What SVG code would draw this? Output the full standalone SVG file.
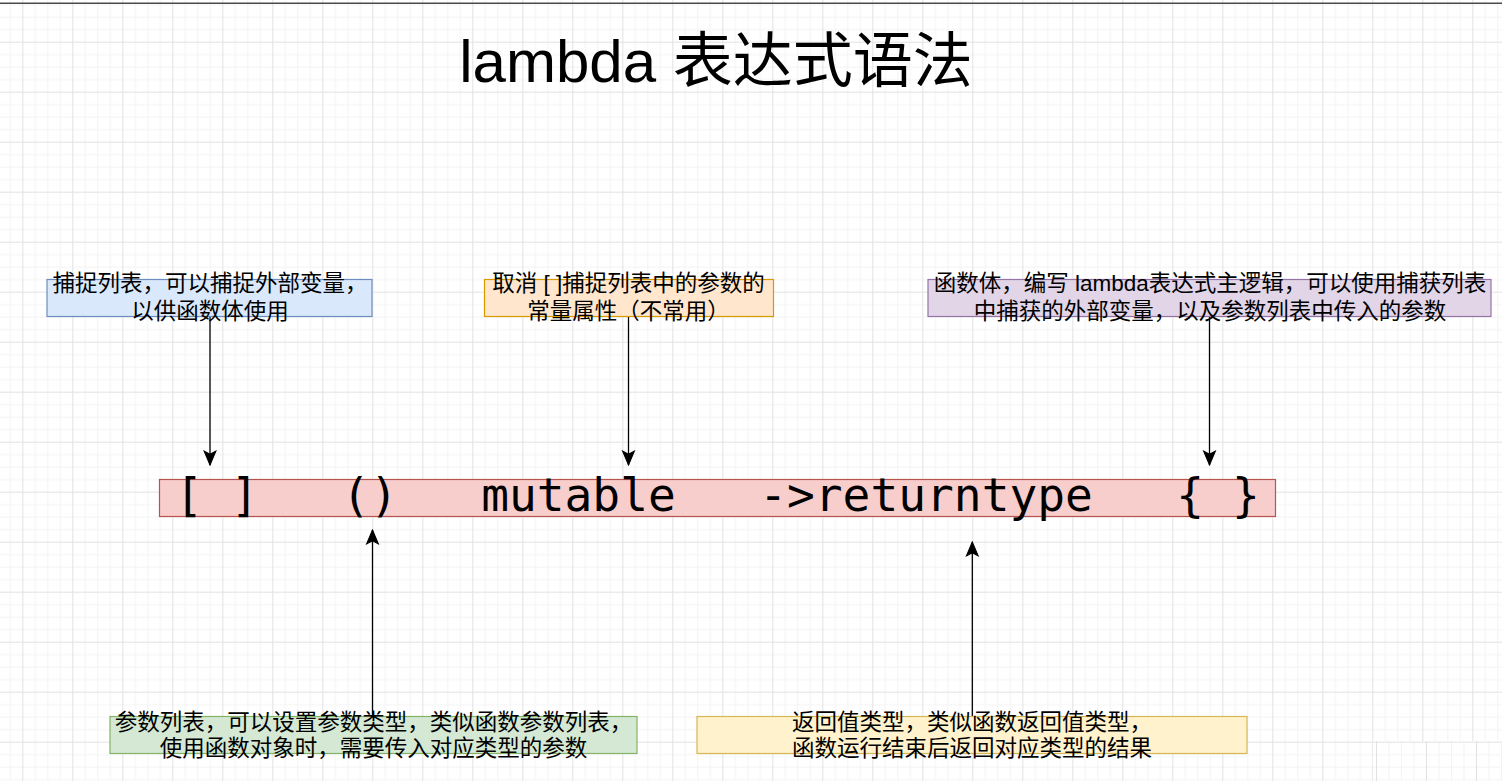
<svg xmlns="http://www.w3.org/2000/svg" width="1502" height="781" viewBox="0 0 1502 781">
  <style>
    .cjk { font-family: "Liberation Sans", "Noto Sans CJK SC", sans-serif; font-size: 22.5px; fill: #000; text-anchor: middle; }
    .title { font-family: "Liberation Sans", "Noto Sans CJK SC", sans-serif; font-size: 60px; fill: #000; text-anchor: middle; }
    .mono { font-family: "DejaVu Sans Mono", "Liberation Mono", monospace; font-size: 46.2px; fill: #000; text-anchor: middle; white-space: pre; }
    .edge { stroke: #000; stroke-width: 1.3; fill: none; }
  </style>
  <defs>
    <pattern id="grid" patternUnits="userSpaceOnUse" x="22.3" y="41.7" width="50" height="50">
      <rect x="0" y="0" width="50" height="50" fill="#ffffff"/>
      <rect x="12.5" y="0" width="1" height="50" fill="#f3f3f3"/>
      <rect x="25" y="0" width="1" height="50" fill="#f3f3f3"/>
      <rect x="37.5" y="0" width="1" height="50" fill="#f3f3f3"/>
      <rect x="0" y="12.5" width="50" height="1" fill="#f3f3f3"/>
      <rect x="0" y="25" width="50" height="1" fill="#f3f3f3"/>
      <rect x="0" y="37.5" width="50" height="1" fill="#f3f3f3"/>
      <rect x="0" y="0" width="1" height="50" fill="#e2e2e2"/>
      <rect x="0" y="0" width="50" height="1" fill="#e2e2e2"/>
    </pattern>
    <pattern id="grid2" patternUnits="userSpaceOnUse" x="26" y="41.7" width="50" height="50">
      <rect x="0" y="0" width="50" height="50" fill="#ffffff"/>
      <rect x="12.5" y="0" width="1" height="50" fill="#f3f3f3"/>
      <rect x="25" y="0" width="1" height="50" fill="#f3f3f3"/>
      <rect x="37.5" y="0" width="1" height="50" fill="#f3f3f3"/>
      <rect x="0" y="12.5" width="50" height="1" fill="#f3f3f3"/>
      <rect x="0" y="25" width="50" height="1" fill="#f3f3f3"/>
      <rect x="0" y="37.5" width="50" height="1" fill="#f3f3f3"/>
      <rect x="0" y="0" width="1" height="50" fill="#e2e2e2"/>
      <rect x="0" y="0" width="50" height="1" fill="#e2e2e2"/>
    </pattern>
    <marker id="arrow" markerUnits="userSpaceOnUse" markerWidth="16" markerHeight="16" viewBox="-14 -7 15 14" refX="0" refY="0" orient="auto">
      <path d="M0,0 L-13,-5.5 L-10,0 L-13,5.5 Z" fill="#000" stroke="#000" stroke-width="1"/>
    </marker>
  </defs>

  <!-- background -->
  <rect x="0" y="0" width="1502" height="781" fill="url(#grid)"/>
  <rect x="1373" y="741" width="129" height="40" fill="url(#grid2)"/>
  <rect x="0" y="2.5" width="1502" height="1.5" fill="#4a4a4a"/>

  <!-- title -->
  <g id="title">
    <text class="title" x="716" y="82">lambda 表达式语法</text>
  </g>

  <!-- connectors -->
  <g id="connectors">
    <line class="edge" x1="210" y1="317" x2="210" y2="465" marker-end="url(#arrow)"/>
    <line class="edge" x1="628.5" y1="317" x2="628.5" y2="465" marker-end="url(#arrow)"/>
    <line class="edge" x1="1209.5" y1="317" x2="1209.5" y2="465" marker-end="url(#arrow)"/>
    <line class="edge" x1="372.5" y1="716" x2="372.5" y2="530" marker-end="url(#arrow)"/>
    <line class="edge" x1="972.3" y1="716" x2="972.3" y2="542" marker-end="url(#arrow)"/>
  </g>

  <!-- nodes -->
  <g id="capture">
    <rect x="47" y="279.5" width="325" height="37" fill="#dae8fc" stroke="#6c8ebf" stroke-width="1.2"/>
    <text class="cjk" x="210" y="290.5">捕捉列表，可以捕捉外部变量，</text>
    <text class="cjk" x="210" y="318.5">以供函数体使用</text>
  </g>

  <g id="mutable-note">
    <rect x="484.5" y="279.5" width="289" height="37" fill="#ffe6cc" stroke="#d79b00" stroke-width="1.2"/>
    <text class="cjk" x="628.5" y="290.5">取消 [ ]捕捉列表中的参数的</text>
    <text class="cjk" x="628.5" y="318.5">常量属性（不常用）</text>
  </g>

  <g id="body-note">
    <rect x="928" y="279.5" width="563" height="37" fill="#e1d5e7" stroke="#9673a6" stroke-width="1.2"/>
    <text class="cjk" x="1210" y="290.5">函数体，编写 lambda表达式主逻辑，可以使用捕获列表</text>
    <text class="cjk" x="1210" y="318.5">中捕获的外部变量，以及参数列表中传入的参数</text>
  </g>

  <g id="syntax">
    <rect x="159.5" y="479.5" width="1116" height="37" fill="#f8cecc" stroke="#b85450" stroke-width="1.2"/>
    <text class="mono" x="717.5" y="510.5">[ ]   ()   mutable   -&gt;returntype   { }</text>
  </g>

  <g id="params-note">
    <rect x="110" y="716.5" width="527" height="37" fill="#d5e8d4" stroke="#82b366" stroke-width="1.2"/>
    <text class="cjk" x="373.5" y="730">参数列表，可以设置参数类型，类似函数参数列表，</text>
    <text class="cjk" x="373.5" y="756">使用函数对象时，需要传入对应类型的参数</text>
  </g>

  <g id="return-note">
    <rect x="697" y="716.5" width="550" height="37" fill="#fff2cc" stroke="#d6b656" stroke-width="1.2"/>
    <text class="cjk" x="972" y="730">返回值类型，类似函数返回值类型，</text>
    <text class="cjk" x="972" y="756">函数运行结束后返回对应类型的结果</text>
  </g>
</svg>
